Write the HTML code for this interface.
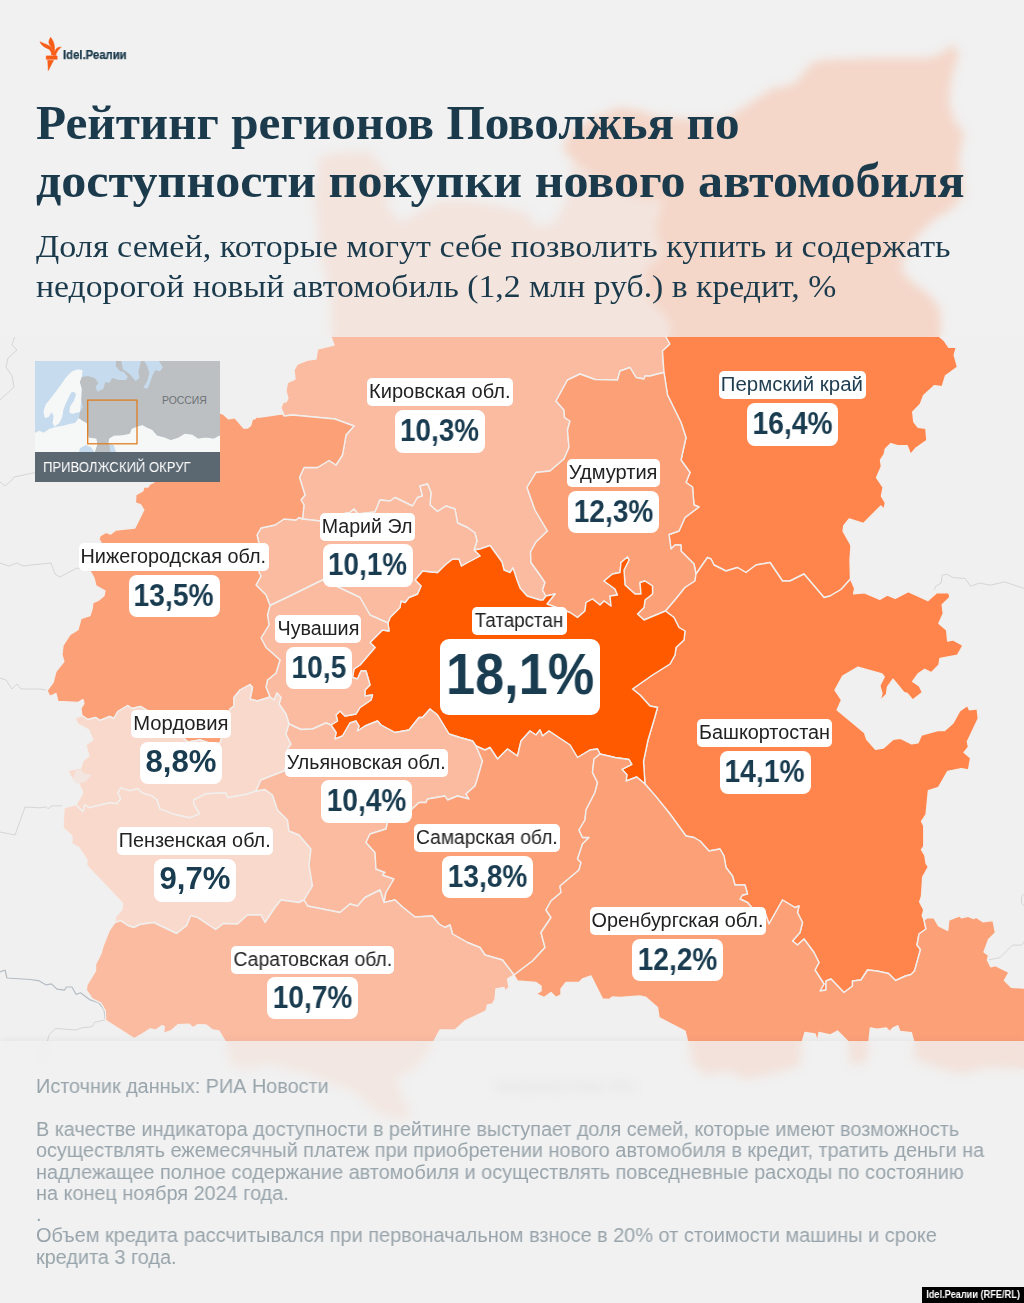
<!DOCTYPE html>
<html lang="ru"><head><meta charset="utf-8"><title>Рейтинг регионов Поволжья</title>
<style>
html,body{margin:0;padding:0}
span{will-change:transform}
body{width:1024px;height:1303px;position:relative;overflow:hidden;background:#f0f0f0;font-family:"Liberation Sans",sans-serif}
#map{position:absolute;left:0;top:0;width:1024px;height:1303px}
#map path{stroke:#f1efed;stroke-width:1.4;stroke-linejoin:round}
.c1{fill:#f9d9cc}.c2{fill:#fabba1}.c3{fill:#fca078}.c4{fill:#ff854d}.c5{fill:#ff5a00}
#map .bgl path{fill:none;stroke:#d6d6d6;stroke-width:1}
#map .bgl path.dk{stroke:#b4bcc4;stroke-width:1.2}
#hdr{position:absolute;left:0;top:0;width:1024px;height:337px;background:rgba(240,240,240,.76);-webkit-backdrop-filter:blur(5px);backdrop-filter:blur(5px)}
#ftr{position:absolute;left:0;top:1041px;width:1024px;height:262px;background:rgba(240,240,240,.82);-webkit-backdrop-filter:blur(5px);backdrop-filter:blur(5px);box-shadow:0 -2px 6px rgba(0,0,0,.04)}
.nm,.vl{position:absolute;background:#fff;text-align:center;white-space:nowrap;overflow:visible}
.nm{height:28px;border-radius:5px;font-size:19.5px;line-height:26px;color:#222}
.vl{height:42.6px;border-radius:8px;font-size:30.7px;line-height:42.8px;font-weight:bold;color:#1a3c50;background:#fff}
.vl.big{height:76.8px;border-radius:9px;font-size:56.5px;line-height:72.3px}
.nm span,.vl span{display:inline-block;transform-origin:center}
h1{position:absolute;left:36px;top:94.3px;margin:0;font-family:"Liberation Serif",serif;font-weight:bold;font-size:48px;line-height:58px;color:#1b3a4c;white-space:nowrap}
h1 span,.sub span,.ft span{display:inline-block;transform-origin:left center;white-space:nowrap}
.sub{position:absolute;left:36px;top:226px;margin:0;font-family:"Liberation Serif",serif;font-size:32.5px;line-height:40px;color:#1b3a4c;white-space:nowrap}
.ft{position:absolute;left:36px;margin:0;font-size:20px;line-height:21.25px;color:#98a4ab;white-space:nowrap}
#logo{position:absolute;left:34px;top:30px}
#logot span{display:inline-block;transform-origin:left center}
#logot{position:absolute;left:62.6px;top:47.8px;font-size:12px;line-height:14px;font-weight:bold;color:#1b3a4c;white-space:nowrap;-webkit-text-stroke:.25px #1b3a4c}
#inset{position:absolute;left:34.9px;top:360.5px;width:185.2px;height:121.1px;overflow:hidden;background:#c7dcee}
#inset svg{position:absolute;left:0;top:0}
#insbar{position:absolute;left:0;top:91.6px;width:185.2px;height:29.5px;background:#5b6771;color:#fff;font-size:15px;line-height:29.6px}
#insbar span{position:absolute;left:7.8px;top:0;display:inline-block;transform-origin:left center;white-space:nowrap}
#wm span{display:inline-block;transform-origin:center}
#wm{position:absolute;right:0;bottom:0;width:102.2px;height:16.2px;background:#000;color:#fff;font-size:10px;line-height:15.1px;font-weight:bold;text-align:center;white-space:nowrap}
</style></head><body>
<svg id="map" viewBox="0 0 1024 1303">
<g class="bgl">
<path d="M15,336 12,345 17,350 8,358 6,367 12,376 14,387 0,400"/>
<path d="M0,482 5,486 12,480 14,477 35,472.6"/>
<path d="M0,563 9,566 17,563 23,566 31,565 51,563 55,574 60,577 77,568 89,571"/>
<path d="M0,678 6,680 12,689 17,684 21,689 40,689 46,690"/>
<path d="M0,832 15,835 25,807 40,807.8 46,806.8 48,808.8 52,805.8 62,805.8"/>
<path class="dk" d="M0,972 5,970 7,978 30,979.5 38.6,980.6 46.1,984.9 51.5,983.8 56.9,989.2 64.4,990.2 66.5,987 71.9,987 76.2,994.5 80.5,992.8 90.2,999.9 98.7,1002.7 104.1,1009.6 105.2,1019.2"/>
<path d="M105.2,1019.9 94.4,1022.4 92.3,1026.7 81.6,1027.8 76.2,1030 55.8,1028.5 49.3,1034.3 47.2,1041.8 42,1060"/>
<path d="M934.5,589.5 935.6,586.3 941.1,583 942.2,575.3 946.6,574.2 953.1,577.5 965.2,578.6 970.6,586.3 979.4,583 990.3,585.2 1004.5,581.9 1024,588.4"/>
<path d="M1024,894 1021.5,896.3 1021.5,903.1 1024,905.4"/>
<path d="M988.6,959.9 1000,957.6 1012.4,945.1 1021.5,945.1 1024,941.7"/>
</g>
<path class="c2" d="M331,337 334,345 317.5,349 316,359 307.5,360 297.5,364 294,370 295,379 287.5,382.5 286,391 287.9,398.4 286.2,401.8 283.2,402.3 280.8,407.7 283.2,413 284,416 292.5,415 335,419 354,426 346,435 342.5,455 336,465 329,460.5 317.5,467.5 304,467.5 299.5,477.5 305,495 301,500 304,505 302.5,519 320,521 325,517.5 350,512.5 354,509 358,514 375,512 380,500 390,501 395,497.5 412.5,506 417.5,497.5 422.5,496 420,486 427.5,484 431,492.5 430,505 437.5,511.5 446,506 455,509 457.5,523 467.5,527.5 475,533 477,541 474,550 480,549 490,545.5 502,562 504,570 510,572.5 513,568 517,580 520,588 527,596 540,600 543,600 546,596 542.5,590 545,582.5 540,575 531,562.5 530.5,552 536,542 547.5,531 535,510 527,487.5 536,472.5 550,471 564,459 569,447.5 567.5,430 570,421 564.5,417.5 564,410 556,401 567.5,380 580,374 595,379.5 617.5,380 620,371 630,367.5 636,377.5 644,379 645,376 650,376 657.5,374 664,372.5 662.5,351 670,344 666,337 670,328 662,314.5 649,303 642,285 644,267.6 656,259 662,252 657,240 653.7,228.7 658.4,210 660.8,200.6 646.7,200.6 630.3,198.3 606.9,186.6 583.4,170 572,160 568,194.8 554.5,221.7 536.5,226 527.5,212.7 500,205 470,200 440,200 424,208 401.7,221.7 388,208 390.5,176.8 370,150.7 340,152 318.6,156.6 314,195 318.6,248.7 330,294 331,337Z"/>
<path class="c4" d="M666,337 670,328 662,314.5 649,303 642,285 644,267.6 656,259 662,252 657,240 653.7,228.7 658.4,210 660.8,200.6 646.7,200.6 630.3,198.3 606.9,186.6 583.4,170 567,156 562.3,146.7 569.4,132.6 590.5,118.6 618.6,106.9 637.3,109.2 658.4,116 691,118.6 724,118.6 742.8,106.9 761.5,95 775.6,85.8 780,87.4 795,82.4 805,69.9 812.4,61.2 830,58.7 879.8,57.4 929.7,57.4 942,52.4 952,43.7 959.6,52.4 952,79.9 949.7,102.3 954.7,119.8 964.6,132.3 959.6,159.7 962,179.7 964.6,194.6 952,209.6 934.7,219.6 919.7,234.6 904.7,254.5 902.3,269.5 909.7,279.5 929.7,294.4 939.7,307 942.2,327 940,337 944.4,340.8 948.8,347.3 956.4,347.3 954.2,355 957.5,367 945.5,375.8 942.2,386.7 934.5,385.6 923.6,395.5 920.3,404.2 912.7,411.9 913.8,421.7 918.1,427.2 925.8,428.3 926.9,440.3 916,448 910.5,454.5 907.2,445.8 898.4,445.8 890.8,443.6 885.3,449 884.2,454.5 880.5,460 881.4,466.6 876.6,477.5 883.1,487.4 881.4,496.1 885.3,502.7 884.2,509.2 880.9,505.9 863.4,523.5 849.2,519 843.8,525.6 843.1,531.1 850.3,544 851,546 850,560 850.5,579 841,589.5 830,596 824,597.5 804,574 790,581 782.5,581 770,562.5 756,565 746,572.5 737.5,567.5 726,571 714,565 711,559 707.5,557.5 696,574 694,564 681,551 681,545 675,545 671,549 669,534.5 679,531 685,517.5 699,507 694,505 692.5,487 686,482.5 690,472.5 681,460 686,437.5 681,422.5 667.5,395 664,372.5 662.5,351 670,344 666,337Z"/>
<path class="c3" d="M664,372.5 657.5,374 650,376 645,376 644,379 636,377.5 630,367.5 620,371 617.5,380 595,379.5 580,374 567.5,380 556,401 564,410 564.5,417.5 570,421 567.5,430 569,447.5 564,459 550,471 536,472.5 527,487.5 535,510 547.5,531 536,542 530.5,552 531,562.5 540,575 545,582.5 542.5,590 546,596 543,600 546,596 555,594 547,604 570,612.5 577.5,617.5 585,611 586,602.5 592.5,599 600,605 604,601 611,606 610,596 617.5,595 615,589 604,581 612.5,574 620,572.5 621,562.5 627.5,557 629,560 624,570 625,585 635,594 641,594 640,582.5 645,581 652.5,586 652.5,594 645,600 644,607.5 637.5,614 644,620 665.5,611 675,600 685,587.5 695,581 696,574 694,564 681,551 681,545 675,545 671,549 669,534.5 679,531 685,517.5 699,507 694,505 692.5,487 686,482.5 690,472.5 681,460 686,437.5 681,422.5 667.5,395 664,372.5Z"/>
<path class="c4" d="M696,574 707.5,557.5 711,559 714,565 726,571 737.5,567.5 746,572.5 756,565 770,562.5 782.5,581 790,581 804,574 824,597.5 830,596 841,589.5 850.5,579 854.7,588.4 853.6,593.9 864.5,592.8 879.8,599.4 887.5,595 895.2,598.3 908.3,591.7 928,600.5 936.7,592.8 948.8,592.8 949.9,597.2 942.2,604.8 943.3,613.6 938.9,623.4 946.6,630 947.7,641 953.1,639.9 963,645.3 957.5,655.2 940,658.4 938.9,665 931.3,672.7 924.7,669.4 918.1,673.8 912.7,681.4 919.2,685.8 922.5,692.4 912.7,700 907.2,693.5 903.9,692.4 893,679.2 887.5,686.9 886.4,694.5 879.8,701.1 882,693.5 879.8,685.8 884.2,677 882,673.8 858,667.2 842.7,676 835,690.2 841.6,700 837.2,709.9 864.5,732.8 866.7,739.4 875.5,749.2 883.1,748.1 893,739.4 900.6,738.3 911.6,743.8 918.1,742.7 921.4,735 937.8,730.6 944.4,730.6 953.1,723 959.7,711 967.4,705.5 969.5,709.9 977.2,708.8 978.3,718.6 967.4,741.6 968.5,747 964.1,752.5 970.6,758 968.5,770 961.3,768.6 947.7,771.4 938.6,787.3 928.4,790.7 926.1,814.5 921.5,821.3 923.8,825.9 923.8,846.3 921.5,849.7 924.9,855.4 926.1,863.4 928.4,866.8 922.7,877 921.5,896.3 919.7,902 923.8,909.9 922.2,915.6 924,920 926,929 919,934 917,945 920.5,949.5 914.5,971 911,974.5 905.5,976 895.5,980.5 888.5,973.5 877,971 867.5,970 861,980 852.5,981 852.5,986 844,992.5 831,979 826,981 826,990 820,991 824,984 815,970 819,962.5 814,952.5 804,939 797.5,945 792.5,941 800,932.5 802.5,922.5 797.5,912.5 799,906 795,907.5 782.5,900 769,924 765,912.5 754,910 747.5,902.5 740,899 742.5,895 747.5,894 745,885 735,885 732.5,876 726,867.5 724,856 720,849 709,851 700,841 694,837.5 686,836 670,814 656,796.6 645,784 643.5,761.5 648,740 654,720 657.5,707.5 650,706 640,695 632.5,689 652.5,675 670,664 675,655 676,647.5 684,640 685,631 679,627.5 674,617.5 665.5,611 675,600 685,587.5 695,581 696,574Z"/>
<path class="c5" d="M388,623 390,617.5 400,607.5 401,601 405,602.5 409,597.5 417.5,594 421,586 415,580 422.5,571 437.5,572.5 445,565 452.5,559 459,559 461.5,566 467.5,562.5 480,556 474,550 480,549 490,545.5 502,562 504,570 510,572.5 513,568 517,580 520,588 527,596 540,600 543,600 546,596 555,594 547,604 570,612.5 577.5,617.5 585,611 586,602.5 592.5,599 600,605 604,601 611,606 610,596 617.5,595 615,589 604,581 612.5,574 620,572.5 621,562.5 627.5,557 629,560 624,570 625,585 635,594 641,594 640,582.5 645,581 652.5,586 652.5,594 645,600 644,607.5 637.5,614 644,620 665.5,611 674,617.5 679,627.5 685,631 684,640 676,647.5 675,655 670,664 652.5,675 632.5,689 640,695 650,706 657.5,707.5 654,720 648,740 643.5,761.5 645,784 636.7,777 626,781 627,775 622,769.3 631.8,764.4 629,759.5 615,757.5 600,754 597.5,749 590,750 577.5,757.5 570,745 549,731 542.5,736 540,730 536,735 530,731 521,741 517.5,756 507.5,749 497.5,759 490,747.5 485,750 476,746 472.5,741 460,737.5 449,734 437.5,715 430,709 422.5,717.5 419,717.5 409,730 395,732.5 381,725 377.5,721 370,724 365,726 357.5,731 359,726 356,721 350,723 342.5,736 335,739 336,732.5 331,725 337.5,721 336,715 340,711 345,716 356,714 360,707.5 371,700 372.5,695 365,696 365,690 370,685 366,671 361,671 357.5,679 352.5,677.5 354,669 360,665 375,647.5 370,642.5 382.5,630 389,631 388,623Z"/>
<path class="c2" d="M302.5,519 320,521 325,517.5 350,512.5 354,509 358,514 375,512 380,500 390,501 395,497.5 412.5,506 417.5,497.5 422.5,496 420,486 427.5,484 431,492.5 430,505 437.5,511.5 446,506 455,509 457.5,523 467.5,527.5 475,533 477,541 474,550 480,556 467.5,562.5 461.5,566 459,559 452.5,559 445,565 437.5,572.5 422.5,571 415,580 421,586 417.5,594 409,597.5 405,602.5 401,601 400,607.5 390,617.5 388,623 370,615 360,597.5 339,587.5 322.5,580 290,596 270,605.5 266,595 256,585 261,576 259,572.5 260,547.5 257,535 261,528 275,525 284,519 296,520 299,517.5 302.5,519Z"/>
<path class="c2" d="M270,605.5 290,596 322.5,580 339,587.5 360,597.5 370,615 388,623 389,631 382.5,630 370,642.5 375,647.5 360,665 354,669 352.5,677.5 357.5,679 361,671 366,671 370,685 365,690 365,696 372.5,695 371,700 360,707.5 356,714 345,716 340,711 336,715 337.5,721 331,725 326,723 312.5,729 301,729.5 289,724 286,714 279,704 281,697.5 277,693 274,700 270,697 266,687 267.5,680 276,673 280,660 266,647.5 261,638 269,625 267.5,615 270,605.5Z"/>
<path class="c3" d="M284,416 282.8,413.8 258.8,417.3 256.4,416.7 254.9,418.9 252.5,418.9 250.5,425.8 247.6,428 243.7,428 234.9,417.7 228.6,418.9 223.2,414 220.3,413.1 210,412 200,420 185,425 175,440 165,455 160,470 154,482 149.8,484 147.8,487 143.8,487 142.8,491 135.8,495 135.4,503 140.8,505 143.8,510 134.8,528 115.8,530 110.8,534 105.8,532.3 99.9,536 98.9,540 100.9,542 95,556 89.9,570.8 93.9,577.8 95.9,585.8 104.9,590.8 103.9,595.7 97.9,600.7 92.9,602.7 92.3,607.7 89.9,615.7 80.9,618.7 77.9,629.7 69.9,634.7 62.9,645.6 61.9,654.6 63.9,661.6 55.9,671.6 53,682.6 47,690.6 50,696.5 55.9,693.6 57.9,701.5 77.9,702.5 82.9,699.5 83.9,703.5 80.9,708.5 81.9,715.5 87.9,719.5 95.9,717.5 99.9,720.5 109.8,716.5 113.8,718.5 117.8,711.5 127.8,705.5 131.8,708.5 140.8,706.5 150,712 160,718 172,722 180,735 188,742 200,740 212,744 220,743 224,730 228,715 230,709 234,706 234,697.5 240,690 250,684.5 252.5,687.5 250,699 257.5,701 270,697 266,687 267.5,680 276,673 280,660 266,647.5 261,638 269,625 267.5,615 270,605.5 266,595 256,585 261,576 259,572.5 260,547.5 257,535 261,528 275,525 284,519 296,520 299,517.5 302.5,519 304,505 301,500 305,495 299.5,477.5 304,467.5 317.5,467.5 329,460.5 336,465 342.5,455 346,435 354,426 335,419 292.5,415 284,416Z"/>
<path class="c1" d="M81.9,715.5 74.9,718 77.9,724 88.9,729.9 92.9,739.9 85.9,744.9 88.9,755.9 82.9,760.9 80.9,767.9 67.9,770.9 72.9,779.8 78.9,783.8 82.9,792.8 78.9,799.8 75.9,804.8 82.9,811.8 84.9,804.8 88.9,807.8 109.9,802.8 116.8,803.8 120.8,798.8 117.8,792.8 120.8,787.8 129.8,790.8 137.8,788.8 141.8,792.8 151.8,795.8 156.8,799.8 159.8,808.8 175.7,814.8 189.7,817.8 199.7,813.8 193.7,803.8 193.7,799.8 205.7,793.8 225.6,792.8 227.6,797.8 247.5,794 256,791 261,780 284,771 290,760 287.5,749 291,744 286,734 289,724 286,714 279,704 281,697.5 277,693 274,700 270,697 257.5,701 250,699 252.5,687.5 250,684.5 240,690 234,697.5 234,706 230,709 228,715 224,730 220,743 212,744 200,740 188,742 180,735 172,722 160,718 150,712 140.8,706.5 131.8,708.5 127.8,705.5 117.8,711.5 113.8,718.5 109.8,716.5 99.9,720.5 95.9,717.5 87.9,719.5 81.9,715.5Z"/>
<path class="c1" d="M75.9,804.8 64,807.8 63,827.7 71.9,835.7 71.9,843.7 78.9,847.7 86.9,859.7 86.9,865.7 105.9,885.6 122.8,903.6 121.8,909.6 115.8,916.6 114.8,922.5 120.8,920.6 127.8,925.5 133.8,927.5 139.8,924.5 153.8,922.5 159.8,925.5 176.7,933.5 186.7,925.5 190.7,915.6 197.7,917.6 215.6,929.5 223.6,923.5 237.5,924 247.5,915 261,915 265,922.5 275,907.5 281,900 299,902.5 304,900 312.5,886 309,865 311,849 299,835 289,831 287.5,820 277.5,810 272.5,795 265,789.5 256,791 247.5,794 227.6,797.8 225.6,792.8 205.7,793.8 193.7,799.8 193.7,803.8 199.7,813.8 189.7,817.8 175.7,814.8 159.8,808.8 156.8,799.8 151.8,795.8 141.8,792.8 137.8,788.8 129.8,790.8 120.8,787.8 117.8,792.8 120.8,798.8 116.8,803.8 109.9,802.8 88.9,807.8 84.9,804.8 82.9,811.8 75.9,804.8Z"/>
<path class="c2" d="M289,724 301,729.5 312.5,729 326,723 331,725 336,732.5 335,739 342.5,736 350,723 356,721 359,726 357.5,731 365,726 370,724 377.5,721 381,725 395,732.5 409,730 419,717.5 422.5,717.5 430,709 437.5,715 449,734 460,737.5 472.5,741 476,746 482.5,761 477,780 475,786 466,794 469,799 457.5,796 447.5,800 445,796 427.5,799 426,802.5 419,802.5 411,810 400,816 387.5,822.5 386,829 370,834 366,842.5 375,852.5 376,869 385,872.5 382.5,875 394,879 386,892.5 384,902.5 380,890 365,897.5 357.5,906 350,904 340,912.5 322.5,909 307.5,906 304,900 312.5,886 309,865 311,849 299,835 289,831 287.5,820 277.5,810 272.5,795 265,789.5 256,791 261,780 284,771 290,760 287.5,749 291,744 286,734 289,724Z"/>
<path class="c3" d="M476,746 485,750 490,747.5 497.5,759 507.5,749 517.5,756 521,741 530,731 536,735 540,730 542.5,736 549,731 570,745 577.5,757.5 590,750 597.5,749 600,754 594,759 592.5,772.5 597.5,782.5 595,792.5 586,810 585,820 579,830 582.5,837.5 589,837.5 582.5,844 577.5,859 581,862.5 579,870 560,886 561,892.5 551,901 546,910 551,917.5 541,932.5 545,947.5 532.5,961 514,975 502.5,960 485,955 480,947.5 467.5,942.5 452.5,934 450,925 445,927.5 439,924 432.5,916 415,917 402.5,907 395,900 384,902.5 386,892.5 394,879 382.5,875 385,872.5 376,869 375,852.5 366,842.5 370,834 386,829 387.5,822.5 400,816 411,810 419,802.5 426,802.5 427.5,799 445,796 447.5,800 457.5,796 469,799 466,794 475,786 477,780 482.5,761 476,746Z"/>
<path class="c2" d="M114.8,922.5 120.8,920.6 127.8,925.5 133.8,927.5 139.8,924.5 153.8,922.5 159.8,925.5 176.7,933.5 186.7,925.5 190.7,915.6 197.7,917.6 215.6,929.5 223.6,923.5 237.5,924 247.5,915 261,915 265,922.5 275,907.5 281,900 299,902.5 304,900 307.5,906 322.5,909 340,912.5 350,904 357.5,906 365,897.5 380,890 384,902.5 395,900 402.5,907 415,917 432.5,916 439,924 445,927.5 450,925 452.5,934 467.5,942.5 480,947.5 485,955 502.5,960 514,975 507.5,979 509,987.5 505,991 504,987.5 496,989 495,999 492.5,1004 487.5,1005 486,1011 465,1021 455,1030 440,1030 434,1041 429,1052 414.4,1070 396.8,1078.6 402.7,1096 411.5,1114 402.7,1121 385,1116.7 370.4,1108 355.8,1093 332.4,1084.5 311.8,1075.7 288.4,1069.8 267.9,1064 247.4,1069.8 229.8,1064 225.5,1041.8 219,1031 212.6,1030 206.2,1025 197.6,1024.6 193.3,1027.8 189,1024.2 178.2,1024.6 170.7,1031 163.6,1033.2 164.3,1026.7 162.1,1025.7 155.7,1030 150.3,1028.9 141.7,1034.3 134.2,1038.6 105.6,1020.3 105.2,1010.6 100.9,1003.1 92.3,998.8 86.3,990.2 86.9,984.9 95.5,970.9 95.5,964.4 100.9,953.7 103,946.2 109.5,930 114.8,922.5Z"/>
<path class="c3" d="M600,754 615,757.5 629,759.5 631.8,764.4 622,769.3 627,775 626,781 636.7,777 645,784 656,796.6 670,814 686,836 694,837.5 700,841 709,851 720,849 724,856 726,867.5 732.5,876 735,885 745,885 747.5,894 742.5,895 740,899 747.5,902.5 754,910 765,912.5 769,924 782.5,900 795,907.5 799,906 797.5,912.5 802.5,922.5 800,932.5 792.5,941 797.5,945 804,939 814,952.5 819,962.5 815,970 824,984 820,991 826,990 826,981 831,979 844,992.5 852.5,986 852.5,981 861,980 867.5,970 877,971 888.5,973.5 895.5,980.5 905.5,976 911,974.5 914.5,971 920.5,949.5 917,945 919,934 926,929 924,920 927.2,917.9 934,917.9 938.6,925.8 947.7,930.4 948.8,920.2 960.2,915.6 961.3,917.9 968.1,916.3 973.8,918.6 976.1,917.2 982.9,921.7 993.1,920.6 995.4,932.7 988.6,939.5 984,952 988.6,955.4 987.4,959.9 990.8,966.7 995.4,965.6 1009,972.4 1004.5,980.4 1011.3,987.2 1026,988.3 1026,1070 990,1068 960,1075 930,1066 913.6,1060 913.6,1041 911.3,1032.6 900,1031.5 897.7,1025.8 893.1,1028 889.7,1031.5 886.3,1028 877.2,1029.2 870.4,1028 869,1041 868,1062 850,1066 847.5,1041 837.5,1031 830,1035 819,1032.5 817.5,1041 815,1034 805,1032.5 802.5,1041 801,1066 775,1074 745,1080 730,1072 705,1076 692,1064 687.5,1041 685,1031 659,1017.5 657.5,1007.5 646,997.5 640,996 620,997.5 612.5,997 609,999.5 602.5,999 591,976 582.5,979 579,982.5 566,982.5 561,989 561,995 556,997.5 551,992.5 544,997.5 536,994 541,991 541,986 536,982.5 517.5,981 514,975 532.5,961 545,947.5 541,932.5 551,917.5 546,910 551,901 561,892.5 560,886 579,870 581,862.5 577.5,859 582.5,844 589,837.5 582.5,837.5 579,830 585,820 586,810 595,792.5 597.5,782.5 592.5,772.5 594,759 600,754Z"/>
<path d="M75.9,770.3 80.9,768.9 82.9,772.9 91.9,774.9 84.9,782.2 75.9,783.4 72.9,778.8Z" style="fill:#f3e6e1;stroke:none"/>
<text x="496" y="1092" font-family="Liberation Sans, sans-serif" font-size="14" fill="#8c8c8c" textLength="138" lengthAdjust="spacingAndGlyphs" style="stroke:none">КАЗАХСТАН РК</text>
</svg>
<div id="hdr"></div>
<div id="ftr"></div>
<svg id="logo" width="40" height="50" viewBox="34 30 40 50"><g fill="#f85d18" stroke="#f85d18" stroke-width=".5" stroke-linejoin="round">
<path d="M39.9,41.7 C42.5,43 46.5,44 49.6,46.1 C52,48 53.3,50.5 53.6,54.5 L51.5,55.2 C51.5,52 50.5,50.3 48.5,49 C45.5,47.5 41.5,46 39.9,41.7Z"/>
<path d="M50.6,37.3 C52.5,39.5 54.3,43 54.5,47 C54.6,49.5 54.5,52 54.6,54.5 L53.2,54.5 C53.5,50 51.5,47.5 49.5,44.5 C48,42 49.3,39.5 50.6,37.3Z"/>
<path d="M61.3,47.1 C59,47 57,47.6 55.8,49.5 C54.6,51.4 53.6,53.5 53,55.5 L55.6,55.5 C56.3,53 57.5,50.5 59.3,49 C60,48.2 60.8,47.6 61.3,47.1Z"/>
<rect x="46.2" y="55.9" width="11" height="3.4"/>
<path d="M47.7,60.2 L53.6,60.2 L48.3,70.6Z"/></g></svg>
<div id="logot"><span id="lg" style="transform:scaleX(0.9433)">Idel.Реалии</span></div>
<h1><span id="t1" style="transform:scaleX(1.0255)">Рейтинг регионов Поволжья по</span><br><span id="t2" style="transform:scaleX(1.0433)">доступности покупки нового автомобиля</span></h1>
<p class="sub"><span id="s1" style="transform:scaleX(1.0493)">Доля семей, которые могут себе позволить купить и содержать</span><br><span id="s2" style="transform:scaleX(1.0376)">недорогой новый автомобиль (1,2 млн руб.) в кредит, %</span></p>
<div id="inset">
<svg width="185.2" height="92" viewBox="0 0 185.2 92">
<rect width="186" height="92" fill="#c6dbee"/>
<path fill="#f6f7f7" d="M-1.0,72.7 3.9,69.7 8.8,71.7 14.6,67.8 21.5,65.8 28.3,64.8 34.2,62.9 40.0,61.9 43.9,57.0 47.9,60.0 51.8,61.9 52.7,70.7 53.7,76.6 61.5,77.5 62.5,83.4 59.6,92.2 -1.0,92.2Z"/>
<path fill="#f6f7f7" d="M47.5,9.2 43.0,8.2 37.1,10.2 31.2,16.0 26.4,22.9 21.5,29.7 15.6,37.5 10.7,43.4 8.4,50.2 9.8,57.0 13.7,56.1 16.6,51.2 18.6,55.1 17.6,61.9 19.5,65.8 24.4,61.9 27.3,56.1 28.3,49.2 30.3,43.4 33.2,37.5 36.1,31.6 39.1,30.7 41.0,33.6 39.1,39.5 35.2,45.3 34.2,51.2 37.1,53.1 43.0,51.2 44.9,51.2 46.3,39.5 46.9,27.7 44.9,20.9 46.9,16.0Z"/>
<path fill="#f6f7f7" d="M81.1,92.2 77.1,86.3 73.2,82.4 74.2,77.5 79.1,74.6 86.9,74.2 94.7,72.7 96.7,67.8 101.6,65.8 107.4,63.9 112.3,66.8 117.2,68.8 122.1,74.6 129.9,76.6 135.7,78.9 143.6,76.6 149.4,72.7 157.2,73.6 163.1,77.5 170.9,76.6 178.7,77.5 186.5,73.6 186.5,92.2Z"/>
<path fill="#bcc0c3" d="M81.1,-1.6 80.7,5.3 85.0,10.2 88.9,11.1 92.8,16.0 90.8,18.9 84.0,18.9 77.1,17.0 74.2,21.9 70.3,20.9 68.4,27.7 62.5,30.7 60.5,25.8 63.5,21.9 59.6,17.0 52.7,15.0 46.9,16.0 44.9,20.9 46.9,27.7 46.3,39.5 47.9,46.3 44.9,51.2 43.9,57.0 47.9,60.0 51.8,61.9 52.7,70.7 53.7,76.6 61.5,77.5 62.5,83.4 59.6,92.2 81.1,92.2 77.1,86.3 73.2,82.4 74.2,77.5 79.1,74.6 86.9,74.2 94.7,72.7 96.7,67.8 101.6,65.8 107.4,63.9 112.3,66.8 117.2,68.8 122.1,74.6 129.9,76.6 135.7,78.9 143.6,76.6 149.4,72.7 157.2,73.6 163.1,77.5 170.9,76.6 178.7,77.5 186.5,73.6 186.5,-1.6 123.0,-1.6 127.9,6.2 125.0,10.2 120.1,9.2 117.2,15.0 114.3,23.8 112.3,27.7 108.4,26.8 112.3,19.9 114.3,12.1 112.3,5.3 108.4,-1.6 106.4,-1.6 103.5,10.2 104.5,17.0 100.6,19.9 94.7,13.1 87.9,8.2 86.9,2.3 85.9,-1.6Z"/>
<path fill="#c6dbee" d="M44.9,87.3 50.8,84.0 56.1,86.3 60.0,92.2 43.9,92.2Z"/>
<path fill="#c6dbee" d="M74.2,82.8 78.7,84.0 81.4,92.2 75.6,92.2Z"/>
<rect x="52.7" y="39.1" width="49.3" height="43.7" fill="none" stroke="#e07a1a" stroke-width="1.25"/>
<text x="127" y="43.3" font-family="Liberation Sans, sans-serif" font-size="11.7" fill="#6d7275" textLength="44.9" lengthAdjust="spacingAndGlyphs">РОССИЯ</text>
</svg>
<div id="insbar"><span id="ib" style="transform:scaleX(0.8728)">ПРИВОЛЖСКИЙ ОКРУГ</span></div>
</div>
<div class="nm" style="left:367px;top:378px;width:146px"><span id="n0" style="transform:scaleX(1.0290)">Кировская обл.</span></div>
<div class="vl" style="left:395px;top:410px;width:90px"><span id="v0" style="transform:scaleX(0.9080)">10,3%</span></div>
<div class="nm" style="left:719px;top:371px;width:146.5px;color:#1f3d50"><span id="n1" style="transform:scaleX(1.0478)">Пермский край</span></div>
<div class="vl" style="left:747px;top:403px;width:91px"><span id="v1" style="transform:scaleX(0.9195)">16,4%</span></div>
<div class="nm" style="left:567px;top:458.5px;width:92.5px"><span id="n2" style="transform:scaleX(1.0291)">Удмуртия</span></div>
<div class="vl" style="left:568px;top:490.5px;width:90.5px"><span id="v2" style="transform:scaleX(0.9138)">12,3%</span></div>
<div class="nm" style="left:320px;top:512.5px;width:94.5px"><span id="n3" style="transform:scaleX(1.0056)">Марий Эл</span></div>
<div class="vl" style="left:322.5px;top:544px;width:90.0px"><span id="v3" style="transform:scaleX(0.9080)">10,1%</span></div>
<div class="nm" style="left:78.5px;top:542.5px;width:190.0px"><span id="n4" style="transform:scaleX(1.0164)">Нижегородская обл.</span></div>
<div class="vl" style="left:128.5px;top:574.5px;width:91.0px"><span id="v4" style="transform:scaleX(0.9195)">13,5%</span></div>
<div class="nm" style="left:275px;top:614.5px;width:86px"><span id="n5" style="transform:scaleX(1.0123)">Чувашия</span></div>
<div class="vl" style="left:285.5px;top:646.5px;width:66.0px"><span id="v5" style="transform:scaleX(0.9167)">10,5</span></div>
<div class="nm" style="left:131px;top:709.5px;width:99.5px"><span id="n6" style="transform:scaleX(1.0380)">Мордовия</span></div>
<div class="vl" style="left:139.5px;top:741.5px;width:82.0px;line-height:39.4px"><span id="v6" style="transform:scaleX(1.0143)">8,8%</span></div>
<div class="nm" style="left:285px;top:748.5px;width:162.5px"><span id="n7" style="transform:scaleX(1.0032)">Ульяновская обл.</span></div>
<div class="vl" style="left:321px;top:780px;width:90.5px"><span id="v7" style="transform:scaleX(0.9138)">10,4%</span></div>
<div class="nm" style="left:117px;top:827px;width:155.5px"><span id="n8" style="transform:scaleX(1.0168)">Пензенская обл.</span></div>
<div class="vl" style="left:154px;top:859px;width:82px;line-height:40.6px"><span id="v8" style="transform:scaleX(1.0143)">9,7%</span></div>
<div class="nm" style="left:413.5px;top:823.5px;width:146.0px"><span id="n9" style="transform:scaleX(0.9861)">Самарская обл.</span></div>
<div class="vl" style="left:442px;top:855.5px;width:90.5px"><span id="v9" style="transform:scaleX(0.9138)">13,8%</span></div>
<div class="nm" style="left:231px;top:945.5px;width:163px"><span id="n10" style="transform:scaleX(0.9938)">Саратовская обл.</span></div>
<div class="vl" style="left:267px;top:976.5px;width:90.5px"><span id="v10" style="transform:scaleX(0.9138)">10,7%</span></div>
<div class="nm" style="left:697px;top:719px;width:135px"><span id="n11" style="transform:scaleX(1.0155)">Башкортостан</span></div>
<div class="vl" style="left:719.5px;top:751px;width:91.0px"><span id="v11" style="transform:scaleX(0.9195)">14,1%</span></div>
<div class="nm" style="left:589.5px;top:907px;width:176.0px"><span id="n12" style="transform:scaleX(1.0178)">Оренбургская обл.</span></div>
<div class="vl" style="left:632px;top:938.5px;width:90.5px"><span id="v12" style="transform:scaleX(0.9138)">12,2%</span></div>
<div class="nm" style="left:471.7px;top:607px;width:95.4px"><span id="nT" style="transform:scaleX(0.9609)">Татарстан</span></div>
<div class="vl big" style="left:439.7px;top:638.6px;width:160px"><span id="vT" style="transform:scaleX(0.9250)">18,1%</span></div>
<p class="ft" style="top:1076.2px"><span id="f0" style="transform:scaleX(0.9908)">Источник данных: РИА Новости</span></p>
<p class="ft" style="top:1119px"><span id="f1" style="transform:scaleX(0.9898)">В качестве индикатора доступности в рейтинге выступает доля семей, которые имеют возможность</span><br><span id="f2" style="transform:scaleX(0.9932)">осуществлять ежемесячный платеж при приобретении нового автомобиля в кредит, тратить деньги на</span><br><span id="f3" style="transform:scaleX(0.9920)">надлежащее полное содержание автомобиля и осуществлять повседневные расходы по состоянию</span><br><span id="f4" style="transform:scaleX(0.9926)">на конец ноября 2024 года.</span><br><span id="f5" style="transform:scaleX(0.9926)">.</span><br><span id="f6" style="transform:scaleX(0.9956)">Объем кредита рассчитывался при первоначальном взносе в 20% от стоимости машины и сроке</span><br><span id="f7" style="transform:scaleX(0.9926)">кредита 3 года.</span></p>
<div id="wm"><span id="wm" style="transform:scaleX(0.9216)">Idel.Реалии (RFE/RL)</span></div>
</body></html>
